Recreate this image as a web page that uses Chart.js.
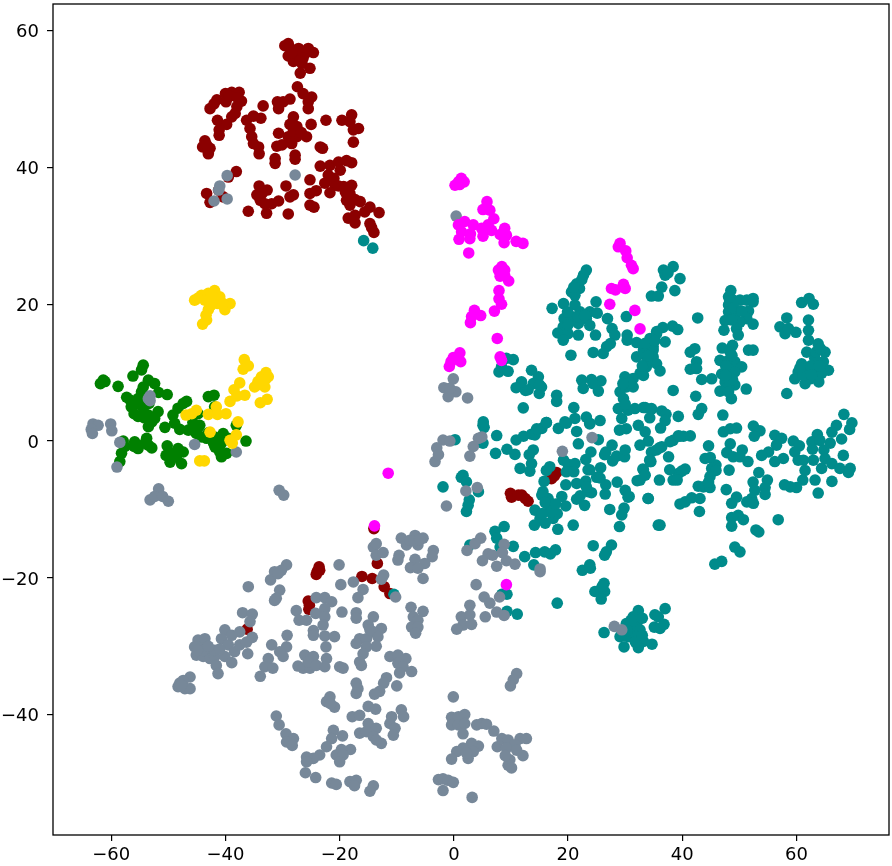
<!DOCTYPE html>
<html>
<head>
<meta charset="utf-8">
<style>html,body{margin:0;padding:0;background:#fff}canvas{display:block}</style>
<script src="https://cdn.jsdelivr.net/npm/chart.js@4/dist/chart.umd.min.js"></script>
</head>
<body>
<canvas id="c" width="892" height="866"></canvas>
<script>
const xTicks = [-60,-40,-20,0,20,40,60];
const yTicks = [-40,-20,0,20,40,60];

const maroon = [[-29,58.1],[-29.6,57.8],[-28.7,57.4],[-27.2,57.4],[-25.5,57.4],[-24.6,56.8],[-26,56.7],[-29,56.3],[-27.5,56.2],[-26.4,56],[-28.1,55.5],[-26.6,55.2],[-25.2,54.5],[-26.9,53.8],[-27.4,51.8],[-26.4,50.8],[-24.9,50.3],[-25.5,49.6],[-25.5,48.6],[-28.7,50],[-29.9,49.6],[-30.9,49.6],[-30.7,48.6],[-27.6,57],[-28.4,56.8],[-27,55.6],
[-42.7,48.6],[-41.5,49.9],[-40,50.8],[-38.9,51],[-37.6,51],[-37.2,49.7],[-38,48.9],[-38.9,47.4],[-38.3,47.9],[-39.9,49.6],[-41.4,46.9],[-39.8,46.3],[-41.1,44.7],[-41.1,45.5],[-43.6,43.9],[-44,43],[-42.7,42.8],[-43,42],[-43.3,43.3],[-42,49.3],[-39.3,50.4],[-37.9,50.2],
[-33.4,49],[-36.3,46.9],[-35.1,47.5],[-33.8,47.2],[-35.7,45.7],[-35.4,44.5],[-35.1,43.5],[-34.2,43],[-34.1,42],[-30.7,45],[-28.1,47.4],[-28.7,46.3],[-27.5,46],[-29,44.5],[-27.5,44.5],[-28.4,43.5],[-31,43.1],[-30.1,43.3],[-25.8,44.5],[-25,46.3],[-31.3,41.3],[-31.3,40.6],[-27.8,41.8],[-27.8,41.2],[-23.4,43],[-23,42.8],[-22.4,46.9],[-19.6,46.9],[-17.9,47.7],[-18.2,46.7],[-16.7,45.7],[-17.6,45.5],[-17.6,43.7],[-28.1,45.3],[-26.7,45.1],
[-23.4,40.2],[-21.7,40.3],[-20.2,40.8],[-18.8,41],[-17.9,40.7],[-19.9,39.6],[-22,38.9],[-22.6,37.7],[-25.2,38.2],[-24.1,36.6],[-25.2,36.2],[-20.8,37.4],[-21.7,36.3],[-19.3,37.2],[-17.9,37.4],[-18.2,36.2],[-18.8,35.2],[-16.4,35],[-18.2,34.5],[-14.7,34.2],[-15.6,33.5],[-13.1,33.4],[-18.5,32.6],[-17.3,33],[-17.3,31.9],[-14.7,31.8],[-14.4,31.2],[-14,30.5],[-21,38.4],[-20.2,37.3],[-19,36.4],[-17.3,35.3],
[-25.2,34.5],[-24.5,34.2],[-28.1,36],[-28.7,35.7],[-29.4,37.3],[-34.1,37.3],[-32.7,36.7],[-34.5,36],[-33.6,36.2],[-33.9,35.2],[-33.1,34.7],[-31.9,34.7],[-30.7,35.1],[-32.8,33.3],[-36,33.6],[-29,33.2],
[-38.1,39.4],[-39.5,38.6],[-43.3,36.2],[-42.7,34.9],[-40.4,35.7],[-41.2,36.7],
[-14,-12.8],[-13.4,-17.9],[-16.1,-19.8],[-14.3,-20.1],[-12.2,-21.3],[-11.2,-22.3],[-23.6,-18.4],[-23.9,-19],[-24.1,-19.5],[-23.5,-18.9],[-25.5,-23.4],[-25.3,-24],[-25.4,-24.6],[-36.2,-27.5],
[9.9,-7.65],[10.1,-8.2],[11.3,-7.9],[11.9,-7.9],[13,-8.8],[12.5,-8.4],[17.1,-5.5],[18,-4.6],[17.6,-5.1]];

const teal = [[-15.8,29.3],[-14.2,28.2],[-10.5,-22.4],
[0.2,0.2],[5.1,2.3],[5.3,2],[7.5,0.8],[5.1,-0.3],[7.3,-1.8],[9.3,-1.2],[10.7,-1.95],[10.9,0.15],[12.2,0.7],[13.6,1],[14.5,1.6],[15.4,1.85],[14.2,0.9],[16.2,2.7],[13.2,-2],[13.9,-1.3],[13.6,-3.3],[11.6,-4],[13.3,-4.4],[16.8,-3.75],[16.2,-4.3],[18.3,1.85],[19.7,2.6],[21.5,1.4],[21.8,-0.4],[23.8,2.6],
[19.2,-2.8],[20,-3.4],[21.2,-3.3],[19.7,-4.5],[21,-4.5],[24,-1.6],[23.1,-2.7],[23.5,-4.2],[25.7,-3.9],[25,-5.3],[26.6,-1.6],[27.8,-2.9],[28.5,-2.2],[29.9,-2.3],[25.3,0.2],
[33.1,-4.1],[34.4,-3],[32.1,-5.8],[28.6,-6],[26.6,-6.4],[26.5,-7.75],[30.7,-8.1],[34,-8.4],[29.8,-9.8],[29.4,-10.8],[29,-12.5],[35.8,-12.3],
[1.6,-5],[1.3,-5.3],[2.2,-5.95],[2.7,-8.6],[2.2,-10.3],[2.5,-9.4],[-1.9,-6.7],[4.3,-7.4],
[15.8,-5.9],[15.6,-7.4],[16.5,-8.4],[15.4,-7.9],[14.2,-10.1],[15.1,-11.3],[14.1,-12.3],[16,-12],[17.4,-11.3],[18.1,-10.6],[16.8,-9.8],[18.9,-8.1],[19.6,-9.5],[19.6,-6.4],[18.2,-12.9],[20.9,-12.3],[21.5,-6.2],[23.1,-5.85],[21.5,-8.5],[22.9,-9.4],[23.5,-7.4],[24.1,-7.55],[22.1,-8],[23.2,-6.7],[16,-9],[15.5,-10.6],[17,-10.4],[17.8,-9.2],
[8.8,-12.5],[7.2,-13.2],[7.5,-14.2],[8.1,-15.5],[10.4,-15.4],[2.8,-15.2],[12.4,-16.9],[14.3,-16.3],[15.9,-16.2],[16.9,-16.5],[17.8,-15.9],[14,-18.1],[24.4,-15.3],[27.6,-15.2],[26.7,-16.2],[26.4,-16.7],[23.8,-18.1],[22.5,-18.9],[23.9,-18.6],[26.3,-20.8],[25.6,-21.8],[24.7,-22],[26.4,-22],[25.8,-23.1],[18.1,-23.7],[9.3,-22.4],[8.4,-22.4],[9.3,-24.9],[11.1,-25.3],[26,-21.2],
[32.3,-24.8],[31.4,-25.7],[35.2,-25.4],[35.1,-27.2],[30.2,-26.7],[32,-26.7],[31.4,-27.6],[32.6,-27.6],[29.1,-28.6],[30.5,-28.6],[32,-28.6],[33.2,-29.3],[34.7,-29.7],[29.8,-30.1],[32.3,-30.2],[26.3,-28],[35.8,-25.7],[36.1,-27.4],[37,-24.5],[36.8,-26.8],[31,-26.2],[33,-25.9],[31.8,-29.4],[30.4,-27.7],[33,-28.4],
[23.2,25],[22.7,24.25],[21.5,23],[22,22.3],[20.6,21.8],[21.2,21.3],[17.2,19.4],[19.2,20.1],[21.2,19.9],[24.9,20.35],[22.1,18.9],[23.8,18.9],[25.1,18.7],[19.3,17.9],[20.6,18.2],[23.2,17.9],[26.9,17.9],[30.2,18.2],[19.15,16.7],[23.8,16.9],[21.8,17.2],[18.2,15.8],[20,15.7],[21.8,15.5],[19.15,14.75],[24.8,15.5],[27.7,16.45],[28.2,15.5],[30.35,15.5],[30.35,14.75],[32,14.4],[27.4,14.25],[26.75,13.8],[24.4,12.95],[26.15,12.8],[20.5,12.55],[10.4,11.9],[9.2,12.1],[7.9,10.1],[8.35,10.9],[9.5,10.2],[33.2,13.3],[32,12.3],[34.3,13.3],[35.5,15.7],[34.9,13.8],[34.3,11.8],[33.7,10.85],[32.6,9.9],[29.95,9.4],[31.4,9.15],[30.2,7.9],[29.1,7.2],[31.4,7.9],[29.7,6.2],[28.8,4.75],[30.5,4.5],[31.7,4.75],[33.2,4.9],[34.6,4.75],[29.4,3.3],[30.2,1.8],[32.3,2.3],[21,22.5],[22.4,23.6],[21.7,18.2],[22.9,18.4],[20,17],[19.9,18.9],[30.9,8.5],[29.6,8.4],[30,5.4],
[13.6,10.35],[11.85,8.65],[14.8,9.4],[10.9,7.8],[12.55,7.4],[13.9,8.4],[15.35,7.9],[14.95,6.95],[18,6.7],[18,5.8],[12.15,4.85],[22.4,8.9],[24.1,9],[25.75,8.8],[22.65,7.7],[24.4,8.4],[25.3,7.3],[21,4.9],[21.2,3.3],[23.2,3.5],[19.45,2.8],[23.8,2.5],[5.15,2.8],[16.2,2.7],[14.5,1.8],
[36.7,25],[38.4,25.5],[37,24.25],[39.6,23.75],[37.5,24.6],[36.4,22.5],[34.6,21.2],[35.8,21.2],[38.7,22],[42.7,18],
[48.5,22],[48.1,21.1],[48.1,19.9],[48.9,20.6],[50.1,20.6],[51.3,20.6],[52.4,20.85],[52.4,20.35],[48.1,18.9],[49.2,18.4],[51.6,19],[51.3,17.9],[52.4,17.1],[47.5,17.6],[47.3,16.2],[50.1,17.4],[49.5,16.45],[49.8,15.5],[48.3,20.5],[49,19.5],[48.6,17.7],[50.4,19],
[47,13.6],[48.8,14],[48.4,13],[51.6,13.3],[52.4,13.3],[46.6,11.8],[48.1,11.8],[49.2,11.6],[50.4,10.85],[48.1,10.6],[46.9,9.8],[48.4,9.6],[49.2,10.1],[47.5,8.65],[49.2,8.2],[48.1,7.9],[46.6,7.3],[48.6,6.2],[48.1,7.2],[51.2,7.6],[45.15,9.1],[43.4,9],[42.2,13.5],[41.4,13],[42.5,11.6],[41.4,10.5],[42.5,10.6],[47.6,11],[48.7,12.5],[48.8,9],[47.6,9.6],
[38.4,7.4],[42.35,6.55],[43.4,4.75],[42.8,3.9],[47.1,3.8],[39.3,3.6],[33.5,4.9],[34.6,4.65],[36.4,4.4],[37.15,3.9],[36.2,1.9],
[36.6,16.6],[35.5,16],[38.3,16.8],[39.2,16.3],[34.35,15],[37,14.5],[34.9,13.3],[33.2,12.8],[34.9,12.3],[35.5,11.3],[33.8,11.6],[36.1,10.25],[33.2,9.6],[33.5,14.3],[34,12.5],[35.2,14.7],[33,11],
[60.9,20.25],[62.2,20.85],[62.95,20],[58.3,18],[57.1,16.7],[58,15.7],[58.6,16.45],[59.9,15.9],[62.1,17.7],[62.1,16.2],[62.1,14.75],[61.8,13],[63.8,14.2],[65,13],[63.2,12.1],[64.7,11.6],[60.9,11.3],[65.6,10.35],[60.3,10.1],[61.8,10.1],[63.2,10.1],[64.4,9.9],[59.7,9.1],[61.5,8.4],[63.9,8.65],[62.4,9.1],[58.3,6.95],[62.5,11],[64,11],[63.4,13],[61.2,9.6],[64.2,13.5],[60.6,10.7],[62.6,9.7],
[68.3,3.9],[69.7,2.65],[69.3,1.7],[67,2.3],[66.2,1.3],[67.9,0.3],[65.9,-0.3],[63.65,0.95],[62.7,-0.1],[64.1,0.1],[62.8,-1.2],[64.8,-1.3],[68.2,-2.1],[65,-2.55],[62.95,-2.8],[64.4,-4],[66.2,-3.3],[67.6,-4],[69.1,-4.6],[69.4,-4],[61.2,-2.8],[61.5,-4.3],[61.1,-5.7],[60,-6.8],[58.9,-6.7],[57.9,-6.4],[63.25,-5.7],[66.2,-5.9],[63.8,-7.6],
[56.2,0.85],[57.4,0.4],[59.45,0],[60.5,-0.7],[56.5,-0.6],[55.1,-1.6],[53.9,-2.1],[59.7,-1.6],[57.7,-2.55],[56.2,-3],[60.3,-2.8],
[52.45,2.2],[53.6,1.5],[52.6,0.7],[47.2,1.35],[48.4,1.8],[49.5,1.9],
[44.6,-0.7],[48.4,-0.4],[50.5,-1.3],[47.8,-1.7],[44,-2.55],[44.9,-2.4],[48.9,-2.3],[50.1,-2.3],[51.5,-3],[48.2,-4.25],[45.9,-3.5],[45.15,-4],[45.9,-4.3],[44.85,-5.2],[53.4,-4.6],[54.9,-5.7],[52.4,-6],[52.7,-7.2],[54.5,-6.8],[54.5,-7.8],[52.15,-8.4],[51.3,-8.9],[52.45,-9.1],[49.5,-8.2],[48.65,-9.1],[47.7,-7.1],[42.8,-6.6],[43.7,-6.7],[44.85,-6.8],[44.6,-6],
[38.4,-5.7],[39.3,-4.75],[40.5,-4.1],[39.9,-4.4],[39.1,-5.7],
[38.4,0.1],[37.85,-0.1],[39.3,0.75],[41.4,0.75],[40.2,0.7],
[36.4,-0.85],[34.6,-1.6],[35.5,-1.3],[37.6,-2.3],[34.5,-3],[33.2,-4.2],[34.05,0],[33.5,1.35],
[34.05,-8.4],[36.1,-12.3],[39.6,-9.2],[40.5,-8.9],[41.65,-8.3],[43.1,-8.4],[43,-10.3],[48.65,-11.2],[49.8,-10.85],[50.7,-11.5],[48.65,-12.45],[56.8,-11.5],[52.9,-13],[53.4,-13.3],[49.2,-15.5],[50.1,-16.2],[46.9,-17.6],[45.7,-18],
[25.6,3],[29,1.6],[34.3,3.4],[37,3],[39.6,0.7],[36,-1],[34.3,-2.8],[32.6,-0.6],[30,-1.3],[27.7,-0.6],[26.4,-2],[32.6,-5.7],[30,-7.2],[30.5,-8.2],[27.3,-10],[25.6,-5.4],[23.8,-4.2],[37.8,-4.2],[36,-5.7],[33.5,-5],[15,8.2],[13,7.5]];

const green = [[-54.4,11.1],[-54.7,10.4],[-56.2,9.5],[-53.5,8.9],[-52.4,8.4],[-61.4,8.9],[-61.9,8.4],[-61.1,8.7],[-58.8,8],[-54.4,7.9],[-54.7,7.2],[-51.7,7.1],[-50.2,6.8],[-57.3,6.4],[-56.7,6],[-55.3,6.2],[-56.5,5],[-54.4,4.8],[-55.3,3.6],[-53.5,3.8],[-51.8,4.3],[-52.4,3.3],[-53.5,2.1],[-50.6,2],[-49.2,3.8],[-48.3,4.8],[-46.8,5.8],[-47.4,5.5],[-43,6.5],[-42,6.7],[-48.9,2.6],[-48,1.7],[-46.5,1.6],[-45.7,2.7],[-44.5,2.3],[-45.1,1.1],[-44.2,0.6],[-43.3,0.4],[-41.9,0.6],[-40.4,1.1],[-42.1,-0.3],[-40.7,-0.3],[-41,-1.6],[-39.8,-1.8],[-40.7,-2.3],[-36.4,0],[-38.1,2.3],[-41.9,5],[-44.8,4],[-57.9,0],[-57.6,-0.8],[-58.2,-1.8],[-58.5,-3],[-55.9,-0.1],[-55.3,-1.1],[-54.1,-0.3],[-53.8,0.4],[-52.9,-1],[-50.2,-0.7],[-48.3,-1.1],[-47.4,-1.6],[-50.4,-2.1],[-49.7,-3.1],[-48.6,-2.3],[-47.7,-3.3],[-41.8,-0.9],[-39.5,0.4],[-43,1.2],[-56,4],[-55,5.4],[-53.4,5.5],[-54.2,3.4],[-52.9,2.8],[-56,-0.8],[-53.5,-0.6],[-49.3,-1.8],[-44.9,1.8],[-41.2,0.2]];

const slate = [[-39.7,38.8],[-41,37.3],[-41.2,36.7],[-39.7,35.4],[-42,35.1],[-27.8,38.9],
[-53.5,6.2],[-53.2,6.6],[-53.2,5.9],[-63.2,2.5],[-62.3,2.3],[-63.5,1.7],[-63.3,1.1],[-60.1,2.5],[-59.9,1.5],[-58.5,-0.2],[-59,-3.8],[-45.4,-0.5],[-38.1,-1.6],[-51.7,-7],[-53.2,-8.6],[-52.4,-8.1],[-51,-8.1],[-50,-8.8],[-30.6,-7.2],[-29.8,-7.9],
[-48,-35.4],[-46.2,-34.5],[-47.4,-35],[-48.3,-35.9],[-47.1,-36.2],[-46.2,-36.2],[-47.7,-35.7],
[-44.8,-29.1],[-43.6,-28.9],[-45.4,-30.1],[-44.2,-30.3],[-45.1,-31.3],[-43.9,-31.5],[-42.7,-30.8],[-42.7,-31.8],[-41.9,-31.5],[-41.6,-32.8],[-41.3,-34],[-40.1,-31.5],[-38.9,-32.4],[-40.1,-27.6],[-40.7,-28.9],[-39.5,-29.8],[-38.9,-28.4],[-37.5,-27.9],[-38.4,-30.8],[-37.5,-29.8],[-36.3,-29.4],[-35.3,-28.7],[-36.1,-31.1],[-37,-25.1],[-35.3,-25.3],[-35.7,-26.4],[-41.9,-30.6],[-43.9,-30.6],[-44.9,-30.6],[-43,-30],[-41,-30.4],
[-36,-21.3],[-29.3,-18.1],[-30.2,-18.9],[-31.4,-19.1],[-32.1,-20.3],[-30.8,-19.4],[-30.5,-21.8],[-31.1,-23],[-31.4,-23.3],
[-31.9,-29.8],[-29.2,-28.4],[-29.3,-30.1],[-30.5,-30.8],[-29.9,-31.5],[-32.5,-31.8],[-33.1,-33],[-31.7,-33.2],[-33.9,-34.4],
[-27.3,-32.9],[-26.1,-31.3],[-24.6,-31.5],[-26.4,-33.2],[-25.2,-33.2],[-25.5,-32.3],[-24.1,-32.8],[-22.3,-31.8],[-22.6,-33],[-20,-33],[-19.4,-33.2],
[-27.6,-24.8],[-27.1,-26.2],[-25.8,-26.2],[-24.2,-25.2],[-24.1,-22.9],[-22.6,-22.9],[-21.4,-23.5],[-22.6,-24.5],[-22.6,-25.7],[-22.9,-26.9],[-24.6,-27.7],[-24.6,-28.4],[-22.6,-28.5],[-20.9,-28.6],[-22.4,-30.1],[-19.6,-25],[-20.1,-18.1],[-19.8,-21],[-17.6,-20.6],[-15.9,-21.7],[-16.8,-22.9],[-12.3,-19.6],[-12.7,-20.2],
[-14.1,-15.5],[-13.6,-15],[-13.6,-16.7],[-12.4,-16.3],
[-9.2,-14.2],[-8.3,-15.2],[-7.7,-14.5],[-6.8,-13.8],[-5.4,-14.2],[-6.3,-15.2],[-9.6,-16.7],[-9.8,-17.4],[-3.6,-16],[-3.8,-16.9],[-6.8,-17.3],[-7.6,-18.5],[-5.1,-17.9],[-6.3,-18.6],[-5.4,-20.1],[-7,-14.6],[-6,-14.4],
[-10.2,-22.8],
[-7.5,-24.3],[-5.4,-24.9],[-7.1,-25.7],[-6.3,-26.2],[-7.4,-27.2],[-6.3,-27.2],[-6.7,-28.1],
[-17.1,-25.1],[-17.1,-25.9],[-14.1,-25.7],[-15,-26.9],[-12.7,-27.4],[-14.1,-27.9],[-16.5,-28.9],[-17.1,-29.6],[-15.3,-28.9],[-13.3,-28.6],[-13.6,-30],[-15.3,-30.1],[-15.9,-31.1],[-16.5,-32.3],[-16.2,-32.8],[-14.7,-27.6],
[-11.2,-31.5],[-9.8,-31.3],[-8.4,-31.8],[-9.8,-32.5],[-8.9,-33],[-7.4,-33.7],[-9.5,-33.9],
[-17.1,-35.4],[-16.8,-36.2],[-17.1,-36.9],[-11.8,-34.6],[-12.3,-35.4],[-10,-35.8],[-13,-36.6],[-13.9,-37],
[-21.7,-37.4],[-22.3,-38.1],[-20.9,-38.9],[-21.6,-38.4],
[-15,-38.8],[-13.7,-39.2],[-17.8,-40.3],[-16.5,-40.1],[-9.2,-39.3],[-8.8,-40.3],[-10.9,-40.3],[-11.2,-41.3],[-10.3,-42],[-10.6,-43],
[-15,-41.3],[-16.5,-42.7],[-15.3,-42.5],[-13.6,-42],[-14.1,-43.2],[-12.7,-44.2],[-13.6,-43.7],
[-31.1,-40.2],[-30.6,-41.5],[-29.4,-42.8],[-28.1,-43.5],[-29.3,-44],[-28.3,-44.5],
[-21.1,-42.3],[-19.5,-43.1],[-21.4,-43.5],[-22.3,-44.7],[-23.5,-45.9],[-24.6,-46.4],[-25.8,-46.2],[-25.8,-46.9],
[-26,-48.5],[-24.2,-49.2],
[-18.1,-45.1],[-19.7,-45.1],[-20.6,-45.9],[-19.4,-45.9],[-20,-46.9],
[-21.4,-50],[-20.6,-50.2],[-18.2,-49.8],[-17.1,-49.6],[-17.4,-50.4],[-14.1,-50.4],[-14.7,-51.2],
[11,-34],[10.4,-34.9],[9.9,-35.8],[-0.1,-37.4],
[-0.4,-40.4],[0.8,-40.3],[1.9,-40],[-0.4,-41.5],[0.8,-41.5],[1.9,-41.3],[1.6,-42.8],
[4,-41.5],[4.9,-41.3],[5.7,-41.4],[7,-42.4],
[7.6,-44.7],[8.4,-43.5],[9.5,-43.7],[11.6,-43.5],[12.7,-43.5],[10.7,-44.4],[9.2,-44.9],[12.1,-46],[9.8,-46.6],[9.5,-47.4],[10.1,-47.8],[9,-46],[11,-45.2],
[4.3,-44.6],[3.1,-44.2],[1.6,-44.9],[0.5,-45.4],[-0.4,-46.5],[2.5,-46.4],[3.4,-45.4],[2.2,-45.6],
[-2.7,-49.5],[-1.9,-49.4],[-1,-49.6],[-0.1,-49.9],[-1.9,-51.1],[3.2,-52.1],
[-1.9,0.15],[-0.7,0],[-3,-1],[-3.3,-3],[-2.7,-2],[4.3,0.4],[3.4,-0.8],[2.8,-2.2],[4.9,0.6],[24.2,0.5],[19,-1.5],[2.1,-7.3],[4.1,-6.8],[-1.3,-9.5],
[4.7,-14.2],[3.7,-15],[2.3,-16],[8.8,-15.1],[8.5,-16.3],[6,-16.5],[6.8,-16.7],[5,-17.5],[7.5,-18.3],[9.2,-17.5],[10.7,-18],[15.1,-19.1],[15.1,-18.7],[3.9,-21],[5.3,-22.8],[8,-22.8],[6.3,-23.7],[2.8,-24],[7.5,-25],[8.8,-25.5],[5.5,-25.7],[1.3,-25.7],[2.8,-25.4],[1.6,-26.9],[3.1,-26.8],[0.5,-27.5],[28.1,-27.1],[29.4,-27.6],
[0.4,32.9],[-0.1,9.1],[-1.75,7.8],[0.35,7.2],[-1,6.5],[2.4,6.3],[-0.7,7.7]];

const gold = [[-45.4,20.6],[-44.2,21.3],[-43,21.6],[-41.9,22],[-41,21.1],[-42.4,20.4],[-43.6,20.6],[-39.2,20.1],[-40.1,19.2],[-41.3,20.1],[-43,19.2],[-43.3,17.7],[-44,17.1],[-43.4,18.4],[-40.4,20.1],[-44.8,20.9],[-42.4,21.3],[-42.6,19.8],
[-36.7,11.9],[-36.9,10.5],[-36,11],[-32.9,10],[-32.5,9.4],[-33.7,9.4],[-33.4,8.4],[-34.9,7.9],[-34.3,8.7],[-33.1,7.9],[-37.5,8.5],[-38.5,7.5],[-38,6.6],[-36.6,6.7],[-39.2,5.8],[-32.7,6.1],[-33.9,5.6],[-33.6,8.9],[-33,9],[-34.4,8.2],
[-46.9,3.8],[-45.9,4],[-45.1,4.5],[-43,3.9],[-41.6,5],[-41.4,3.9],[-39.9,4],[-37.8,2.8],[-42.7,1.3],[-38.1,0.9],[-39.2,0.1],[-38.8,-0.3],[-44.5,-2.9],[-43.7,-2.9]];

const magenta = [[-13.9,-12.4],[9.2,-21],[0.2,37.4],[0.8,37.9],[1.3,38.4],[1.8,37.9],[1,37.5],[5.8,35],[5.1,33.85],[6.3,33.75],[7,32.5],[1.9,32.1],[0.8,31.6],[3.4,31.6],[1.35,30.6],[0.9,29.5],[2.8,29.6],[2.9,30.3],[5.1,29.95],[4.85,31.1],[6,31.6],[6.6,30.8],[8.1,30.2],[8.9,31.1],[9.2,30.1],[8.8,29],[10.9,29.2],[12.1,28.9],[2.6,27.5],
[8.4,25.5],[7.8,25],[8.9,25],[8.1,24.1],[9.6,23.4],[8.9,24.2],[7.9,22],[7.9,20.8],[8.35,20],[7.1,19],[3.6,19.1],[3.1,18.2],[4.7,18.35],[2.9,17.3],[7.6,15],[8.1,12.3],[8.35,11.8],[1.05,12.9],[-0.1,12.2],[1.2,11.6],[-0.8,10.9],[-0.5,11.6],
[29.1,28.9],[28.8,28.4],[30.1,27.8],[30.35,26.8],[31.1,25.7],[31.4,25.2],[27.6,22.3],[28.3,22.1],[29.7,22.9],[30,22.3],[27.3,20],[31.7,19.1],[32.6,16.4],[-11.5,-4.7]];

const fmt = v => String(v).replace('-', '\u2212');
const toPts = a => a.map(p => ({x:p[0], y:p[1]}));
const ds = (pts, color) => ({data:toPts(pts), backgroundColor:color, borderColor:color, borderWidth:0, pointRadius:5.8, pointHoverRadius:5.8});

const frame = {id:'frame', afterDraw(ch){
  const a = ch.chartArea, g = ch.ctx;
  g.save(); g.strokeStyle='#000'; g.lineWidth=1.3;
  g.strokeRect(a.left, a.top, a.right-a.left, a.bottom-a.top); g.restore();
}};

const tickFont = {family:'"DejaVu Sans"', size:18};
new Chart(document.getElementById('c'), {
  type:'scatter',
  data:{datasets:[ds(magenta,'#FF00FF'),ds(gold,'#FFD700'),ds(slate,'#778899'),ds(green,'#008000'),ds(teal,'#008B8B'),ds(maroon,'#8B0000')]},
  options:{
    responsive:false, animation:false, events:[],
    layout:{autoPadding:false,padding:{top:4,right:3,left:0,bottom:0}},
    plugins:{legend:{display:false},tooltip:{enabled:false}},
    scales:{
      x:{type:'linear',min:-70.2,max:76.2,
        afterBuildTicks(ax){ax.ticks=xTicks.map(v=>({value:v}));},
        afterFit(ax){ax.height=31;ax.paddingLeft=0;ax.paddingRight=0;},
        grid:{display:true,drawOnChartArea:false,drawTicks:true,tickLength:6,color:'#000',lineWidth:1.2},
        border:{display:false},
        ticks:{color:'#000',font:tickFont,padding:4,maxRotation:0,autoSkip:false,callback:fmt}},
      y:{type:'linear',min:-57.6,max:63.9,
        afterBuildTicks(ax){
          ax.ticks=yTicks.map(v=>({value:v}));
          if(!ax.labelShiftDone){
            ax.labelShiftDone=true;
            const compute=ax._computeLabelItems.bind(ax);
            ax._computeLabelItems=ca=>{
              const items=compute(ca);
              items.forEach(it=>{it.options.translation=[it.options.translation[0],it.options.translation[1]+2];});
              return items;
            };
          }
        },
        afterFit(ax){ax.width=53;ax.paddingTop=0;ax.paddingBottom=0;},
        grid:{display:true,drawOnChartArea:false,drawTicks:true,tickLength:6,color:'#000',lineWidth:1.2},
        border:{display:false},
        ticks:{color:'#000',font:tickFont,padding:8,autoSkip:false,callback:fmt}}
    }
  },
  plugins:[frame]
});
</script>
</body>
</html>
